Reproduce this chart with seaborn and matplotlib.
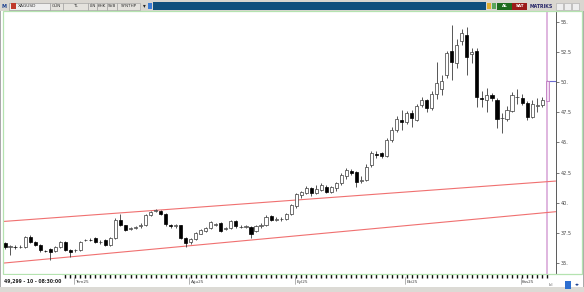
import numpy as np
import pandas as pd
import matplotlib
matplotlib.use("Agg")
import matplotlib.pyplot as plt
import seaborn as sns
from matplotlib.patches import Rectangle

# ---------------- data (XAGUSD daily) ----------------
opens = [36.66, 36.33, 36.35, 36.33, 36.33, 37.16, 36.75, 36.50, 36.02, 36.20,
         36.00, 36.33, 36.75, 36.10, 36.05, 36.08, 36.88, 36.92, 37.08, 36.75,
         36.91, 36.50, 37.08, 38.57, 38.16, 37.85, 37.91, 38.05, 38.16, 38.99,
         39.35, 39.32, 39.07, 38.16, 38.08, 38.16, 37.08, 36.75, 37.00, 37.45,
         37.70, 37.91, 38.20, 38.30, 37.85, 37.90, 38.45, 38.00, 38.00, 38.00,
         37.70, 38.05, 38.16, 38.90, 38.60, 38.65, 38.65, 39.07, 39.70, 40.64,
         40.80, 41.20, 40.80, 41.06, 41.30, 40.90, 41.20, 41.60, 42.20, 42.60,
         42.55, 41.80, 41.90, 43.10, 44.05, 44.10, 43.90, 45.20, 46.00, 46.90,
         46.70, 47.40, 46.90, 48.10, 48.50, 47.85, 49.00, 49.40, 50.60, 52.60,
         51.60, 53.40, 53.90, 52.30, 52.60, 48.70, 48.50, 48.95, 48.50, 47.00,
         46.95, 47.60, 48.75, 48.70, 48.30, 47.10, 48.05, 48.10, 48.45]
highs = [36.75, 36.50, 36.50, 36.48, 37.25, 37.30, 36.85, 36.60, 36.12, 36.28,
         36.42, 36.85, 36.80, 36.15, 36.18, 36.85, 37.02, 37.05, 37.15, 36.88,
         37.00, 37.15, 38.75, 39.10, 38.20, 38.02, 38.10, 38.30, 39.10, 39.35,
         39.50, 39.40, 39.15, 38.25, 38.25, 38.20, 37.15, 37.10, 37.60, 37.85,
         38.00, 38.50, 38.35, 38.40, 38.00, 38.55, 38.60, 38.15, 38.20, 38.10,
         38.20, 38.30, 38.95, 39.00, 38.80, 38.80, 39.15, 39.90, 40.85, 41.00,
         41.40, 41.30, 41.50, 41.60, 41.50, 41.40, 41.70, 42.50, 42.90, 42.80,
         42.65, 42.20, 43.20, 44.30, 44.30, 44.20, 45.40, 46.30, 47.20, 47.70,
         47.60, 47.70, 48.20, 48.80, 48.60, 49.30, 51.70, 50.60, 52.60, 54.70,
         53.60, 54.40, 54.60, 52.80, 52.80, 49.30, 49.50, 49.10, 48.70, 47.40,
         48.00, 49.20, 49.40, 49.00, 48.40, 48.50, 48.70, 48.80, 50.20]
lows = [36.20, 35.67, 36.20, 36.22, 36.25, 36.65, 36.40, 35.95, 35.90, 35.26,
        35.95, 36.25, 36.00, 35.50, 35.95, 36.00, 36.80, 36.80, 36.70, 36.62,
        36.40, 36.40, 37.00, 38.10, 37.70, 37.75, 37.80, 37.95, 38.10, 38.90,
        39.20, 39.00, 38.10, 37.95, 37.95, 37.00, 36.33, 36.60, 36.95, 37.40,
        37.60, 37.85, 38.05, 37.60, 37.75, 37.85, 37.95, 37.90, 37.90, 37.10,
        37.60, 37.95, 38.10, 38.50, 38.50, 38.50, 38.60, 39.00, 39.60, 40.40,
        40.70, 40.60, 40.70, 40.95, 40.80, 40.80, 41.00, 41.50, 42.00, 42.30,
        41.30, 41.60, 41.80, 43.00, 43.70, 43.70, 43.80, 45.00, 45.90, 46.00,
        46.50, 46.30, 46.80, 47.90, 47.50, 47.70, 48.60, 48.90, 50.30, 50.20,
        51.20, 53.10, 50.60, 51.60, 47.90, 47.90, 47.50, 48.40, 46.20, 45.80,
        46.80, 47.50, 48.20, 48.10, 46.90, 47.00, 47.50, 47.90, 48.40]
closes = [36.33, 36.38, 36.33, 36.36, 37.16, 36.75, 36.50, 36.08, 36.00, 35.92,
          36.33, 36.75, 36.08, 35.94, 36.08, 36.75, 36.92, 36.90, 36.75, 36.78,
          36.50, 37.05, 38.57, 38.16, 37.75, 37.91, 38.00, 38.16, 38.99, 39.24,
          39.40, 39.07, 38.24, 38.08, 38.16, 37.08, 36.66, 37.00, 37.50, 37.75,
          37.91, 38.41, 38.22, 37.70, 37.90, 38.45, 38.10, 38.00, 38.10, 37.40,
          38.10, 38.15, 38.85, 38.57, 38.65, 38.65, 39.07, 39.80, 40.70, 40.90,
          41.20, 40.80, 41.10, 41.47, 40.90, 41.30, 41.60, 42.30, 42.70, 42.50,
          41.70, 41.90, 43.00, 44.10, 44.00, 43.90, 45.20, 46.00, 46.90, 46.70,
          47.40, 47.00, 48.00, 48.50, 47.85, 49.00, 49.90, 50.10, 52.40, 51.70,
          53.10, 54.10, 52.10, 52.50, 48.80, 48.60, 48.90, 48.65, 46.95, 47.05,
          47.70, 48.90, 48.80, 48.30, 47.10, 48.20, 48.10, 48.50, 50.10]

month_labels = ["Tem25", "Ağu25", "Eyl25", "Eki25", "Kas25"]
month_start_idx = [14, 37, 58, 80, 103]
y_ticks = [35, 37.5, 40, 42.5, 45, 47.5, 50, 52.5, 55]
y_tick_labels = ["35.", "37.5", "40.", "42.5", "45.", "47.5", "50.", "52.5", "55."]
channel_x = [-0.4, 109.7]
channel_upper = [38.45, 41.80]
channel_lower = [35.00, 39.26]
status_text = "49,299 - 10 - 08:30:00"
toolbar_items = ["GÜN", "TL", "LİN", "KHK", "SVB", "SYNTHP"]

# ---------------- figure ----------------
sns.set_theme(style="white")
plt.rcParams["font.family"] = ["DejaVu Sans"]
W, H = 584, 292
fig = plt.figure(figsize=(W / 100, H / 100), dpi=100)
fig.patch.set_facecolor("white")


def fx(px):
    return px / W


def fy(py):
    return 1 - py / H


# window chrome
fig.add_artist(Rectangle((0, 0), 1, 1, transform=fig.transFigure,
                         facecolor="none", edgecolor="#9a9a9a", lw=1.2))
fig.add_artist(Rectangle((0, fy(11)), 1, fy(0) - fy(11), transform=fig.transFigure,
                         facecolor="#d9d6d0", edgecolor="none"))
fig.add_artist(Rectangle((0, 0), 1, fy(286.5), transform=fig.transFigure,
                         facecolor="#dcdad5", edgecolor="none"))
# blue title bar
fig.add_artist(Rectangle((fx(153), fy(10)), fx(486 - 153), fy(2) - fy(10),
                         transform=fig.transFigure, facecolor="#0f4f7d", edgecolor="none"))
# symbol box
fig.add_artist(Rectangle((fx(9), fy(9.5)), fx(41), fy(2.5) - fy(9.5),
                         transform=fig.transFigure, facecolor="#eeeeee",
                         edgecolor="#888888", lw=0.4))
fig.text(fx(2), fy(6), "M", fontsize=3.6, color="#1a3f8f", va="center",
         fontweight="bold")
fig.add_artist(Rectangle((fx(11), fy(9)), fx(5), fy(3) - fy(9),
                         transform=fig.transFigure, facecolor="#c0392b", edgecolor="none"))
fig.text(fx(18), fy(6), "XAGUSD", fontsize=3.2, color="#333333", va="center")
bx = [50, 63, 88, 97, 107, 117]
bw = [13, 25, 9, 10, 10, 23]
for x0, w, lab in zip(bx, bw, toolbar_items):
    fig.add_artist(Rectangle((fx(x0), fy(9.5)), fx(w), fy(2.5) - fy(9.5),
                             transform=fig.transFigure, facecolor="#e4e2dd",
                             edgecolor="#9a9a9a", lw=0.4))
    fig.text(fx(x0 + w / 2), fy(6), lab, fontsize=3.0, color="#333333",
             ha="center", va="center")
fig.text(fx(144), fy(6), "▾", fontsize=4, color="#222", ha="center", va="center")
fig.add_artist(Rectangle((fx(148), fy(9)), fx(4), fy(3) - fy(9),
                         transform=fig.transFigure, facecolor="#3a7bd5", edgecolor="none"))
# right buttons
fig.add_artist(Rectangle((fx(487), fy(9)), fx(4), fy(3) - fy(9),
                         transform=fig.transFigure, facecolor="#e0b030", edgecolor="none"))
fig.add_artist(Rectangle((fx(492), fy(9)), fx(4), fy(3) - fy(9),
                         transform=fig.transFigure, facecolor="#5aa55a", edgecolor="none"))
fig.add_artist(Rectangle((fx(497), fy(9.5)), fx(15), fy(2.5) - fy(9.5),
                         transform=fig.transFigure, facecolor="#1e6b1e", edgecolor="none"))
fig.text(fx(504.5), fy(6), "AL", fontsize=3.0, color="white", ha="center",
         va="center", fontweight="bold")
fig.add_artist(Rectangle((fx(512), fy(9.5)), fx(15), fy(2.5) - fy(9.5),
                         transform=fig.transFigure, facecolor="#9b1a1a", edgecolor="none"))
fig.text(fx(519.5), fy(6), "SAT", fontsize=3.0, color="white", ha="center",
         va="center", fontweight="bold")
fig.text(fx(541), fy(6), "MATRIKS", fontsize=3.4, color="#2b2b6b", ha="center",
         va="center", fontweight="bold")
for x0 in (556, 564, 572):
    fig.add_artist(Rectangle((fx(x0), fy(9.5)), fx(7), fy(2.5) - fy(9.5),
                             transform=fig.transFigure, facecolor="#eeeeee",
                             edgecolor="#aaaaaa", lw=0.4))

# green chart frame
fig.add_artist(Rectangle((fx(3), fy(274)), fx(582 - 3), fy(11) - fy(274),
                         transform=fig.transFigure, facecolor="none",
                         edgecolor="#b5e3b0", lw=0.9))

# ---------------- main price axes ----------------
ax = fig.add_axes([fx(3), fy(273.5), fx(555.7 - 3), fy(11) - fy(273.5)])
ax.set_facecolor("none")

n = len(opens)
df = pd.DataFrame({"idx": np.arange(n), "open": opens, "high": highs,
                   "low": lows, "close": closes})
df["bottom"] = df[["open", "close"]].min(axis=1)
df["height"] = (df["close"] - df["open"]).abs().clip(lower=0.02)
df["up"] = df["close"] >= df["open"]
last = df.iloc[-1]
body = df.iloc[:-1]

# channel lines (seaborn)
chan = pd.DataFrame({"x": channel_x * 2, "y": channel_upper + channel_lower,
                     "line": ["upper", "upper", "lower", "lower"]})
sns.lineplot(data=chan, x="x", y="y", units="line", estimator=None,
             color="#f07070", lw=0.8, ax=ax, zorder=1)

# current-bar marker line
ax.axvline(last["idx"], color="#dcb0dc", lw=1.3, zorder=0.5)
ax.hlines(last["close"], last["idx"], channel_x[1], color="#6b6bd0", lw=0.8, zorder=3)

# wicks
ax.vlines(body["idx"], body["low"], body["high"], color="#3a3a3a", lw=0.6, zorder=2)
ax.vlines(last["idx"], last["low"], last["high"], color="#c58ac5", lw=0.6, zorder=2)
# bodies
upb = body[body["up"]]
dnb = body[~body["up"]]
ax.bar(upb["idx"], upb["height"], bottom=upb["bottom"], width=0.62,
       color="white", edgecolor="#3a3a3a", lw=0.5, zorder=3)
ax.bar(dnb["idx"], dnb["height"], bottom=dnb["bottom"], width=0.62,
       color="black", edgecolor="black", lw=0.5, zorder=3)
ax.bar([last["idx"]], [last["height"]], bottom=[last["bottom"]], width=0.62,
       color="#f3dcf3", edgecolor="#c07ac0", lw=0.6, zorder=3)

ax.set_xlim(-0.4, 109.7)
ax.set_ylim(34.14, 55.89)
ax.grid(False)
for s in ("top", "left", "bottom"):
    ax.spines[s].set_visible(False)
ax.spines["right"].set_color("#5a5a5a")
ax.spines["right"].set_linewidth(0.7)
ax.yaxis.tick_right()
ax.set_yticks(y_ticks)
ax.set_yticklabels(y_tick_labels)
ax.tick_params(axis="y", direction="out", length=2, width=0.5, colors="#444444",
               labelsize=3.6, pad=1.5, right=True, left=False)
ax.set_xticks(df["idx"])
ax.set_xticklabels([])
ax.tick_params(axis="x", direction="out", length=2.6, width=1.0, colors="#111111",
               bottom=True, pad=0)
ax.set_xlabel("")
ax.set_ylabel("")

# month labels
for i, lab in zip(month_start_idx, month_labels):
    ax.plot([i - 0.3, i - 0.3], [-0.012, -0.04], transform=ax.get_xaxis_transform(),
            color="#777777", lw=0.4, clip_on=False)
    ax.text(i, -0.031, lab, transform=ax.get_xaxis_transform(), fontsize=3.0,
            color="#444444", ha="left", va="center", clip_on=False)

# status box bottom-left
fig.add_artist(Rectangle((fx(2), fy(286)), fx(60), fy(274.6) - fy(286),
                         transform=fig.transFigure, facecolor="white",
                         edgecolor="none", zorder=5))
fig.text(fx(3.5), fy(281.5), status_text, fontsize=3.3, color="#222222",
         fontweight="bold", va="center", zorder=6)
fig.text(fx(551), fy(285), "ılıl", fontsize=3.0, color="#555555", ha="center", va="center")
fig.add_artist(Rectangle((fx(565), fy(289)), fx(6), fy(281) - fy(289),
                         transform=fig.transFigure, facecolor="#2e6fd0", edgecolor="none"))
fig.text(fx(577), fy(285), "◂▸", fontsize=3.5, color="#1a3f8f", ha="center", va="center")

fig.savefig("out.png", dpi=100)
